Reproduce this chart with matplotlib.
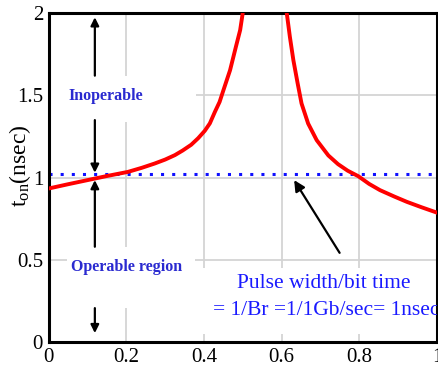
import matplotlib.pyplot as plt
import matplotlib.patches as patches

# ton vs x, two branches of the curve
x_left = [0.0, 0.05, 0.1, 0.15, 0.204, 0.24, 0.273, 0.3, 0.325, 0.345, 0.367, 0.385,
          0.402, 0.415, 0.428, 0.44, 0.45, 0.467, 0.482, 0.493, 0.4996]
y_left = [0.934, 0.96, 0.985, 1.01, 1.035, 1.06, 1.086, 1.11, 1.137, 1.165, 1.2, 1.24,
          1.285, 1.33, 1.40, 1.46, 1.532, 1.653, 1.795, 1.897, 2.0]
x_right = [0.613, 0.621, 0.630, 0.641, 0.651, 0.668, 0.690, 0.720, 0.745, 0.770, 0.797,
           0.825, 0.853, 0.89, 0.922, 0.96, 1.0]
y_right = [2.0, 1.856, 1.714, 1.573, 1.451, 1.329, 1.228, 1.135, 1.082, 1.042, 1.009,
           0.962, 0.924, 0.885, 0.853, 0.82, 0.787]
bit_time = 1.02

x_ticks = [0, 0.2, 0.4, 0.6, 0.8, 1]
x_ticklabels = ['0', '0.2', '0.4', '0.6', '0.8', '1']
y_ticks = [0, 0.5, 1, 1.5, 2]
y_ticklabels = ['0', '0.5', '1', '1.5', '2']

plt.rcParams['font.family'] = 'Liberation Serif'
plt.rcParams['mathtext.fontset'] = 'custom'
plt.rcParams['mathtext.rm'] = 'Liberation Serif'
plt.rcParams['mathtext.it'] = 'Liberation Serif'

fig = plt.figure(figsize=(4.38, 3.76), dpi=100)
ax = fig.add_axes([0.111, 0.090, 0.887, 0.875])

#Plot Setup
ax.set_xlim(0, 1)
ax.set_ylim(0, 2)
ax.set_xticks(x_ticks)
ax.set_xticklabels(x_ticklabels)
ax.set_yticks(y_ticks)
ax.set_yticklabels(y_ticklabels)
ax.tick_params(length=0, labelsize=15, pad=4)
ax.grid(True, color='#d4d4d4', linewidth=1.3)
ax.set_axisbelow(True)
for s in ax.spines.values():
    s.set_linewidth(2.2)
    s.set_color('black')

# white boxes behind the texts
for (x0, y0, w, h) in [(0.0, 1.34, 0.38, 0.28), (0.047, 0.207, 0.33, 0.373), (0.39, 0.05, 0.61, 0.40)]:
    ax.add_patch(patches.Rectangle((x0, y0), w, h, facecolor='white', edgecolor='none', zorder=1.5))

#Data Plotting
ax.plot(x_left, y_left, color='#ff0000', linewidth=2.8, zorder=3, solid_joinstyle='round')
ax.plot(x_right, y_right, color='#ff0000', linewidth=2.8, zorder=3, solid_joinstyle='round')
ax.axhline(bit_time, color='#1010ff', linewidth=2.2, linestyle=(0, (1, 2.65)), zorder=2.5)

# region arrows
ar = dict(arrowstyle='-|>', color='black', lw=1.6, mutation_scale=12, shrinkA=0, shrinkB=0)
ax.annotate('', xy=(0.119, 1.975), xytext=(0.119, 1.62), arrowprops=ar, zorder=4)
ax.annotate('', xy=(0.119, 1.03), xytext=(0.119, 1.35), arrowprops=ar, zorder=4)
ax.annotate('', xy=(0.119, 0.985), xytext=(0.119, 0.58), arrowprops=ar, zorder=4)
ax.annotate('', xy=(0.119, 0.055), xytext=(0.119, 0.207), arrowprops=ar, zorder=4)

ax.text(0.148, 1.495, 'Inoperable', color='#2a2ad0', fontsize=11.5, fontweight='bold',
        ha='center', va='center', zorder=4)
ax.text(0.2, 0.455, 'Operable region', color='#2a2ad0', fontsize=11.5, fontweight='bold',
        ha='center', va='center', zorder=4)

ax.annotate('', xy=(0.632, 0.985), xytext=(0.749, 0.543),
            arrowprops=dict(arrowstyle='-|>', color='black', lw=1.6, mutation_scale=16,
                            shrinkA=0, shrinkB=0), zorder=4)
ax.text(0.709, 0.355, 'Pulse width/bit time', color='#1a1aff', fontsize=15.5,
        ha='center', va='center', zorder=4)
ax.text(0.423, 0.19, '= 1/Br =1/1Gb/sec= 1nsec', color='#1a1aff', fontsize=15.5,
        ha='left', va='center', zorder=4, clip_on=True)

fig.text(0.046, 0.558, r'$\mathrm{t_{on}}$(nsec)', rotation=90, fontsize=17,
         ha='center', va='center')

fig.savefig('out.png', dpi=100)
